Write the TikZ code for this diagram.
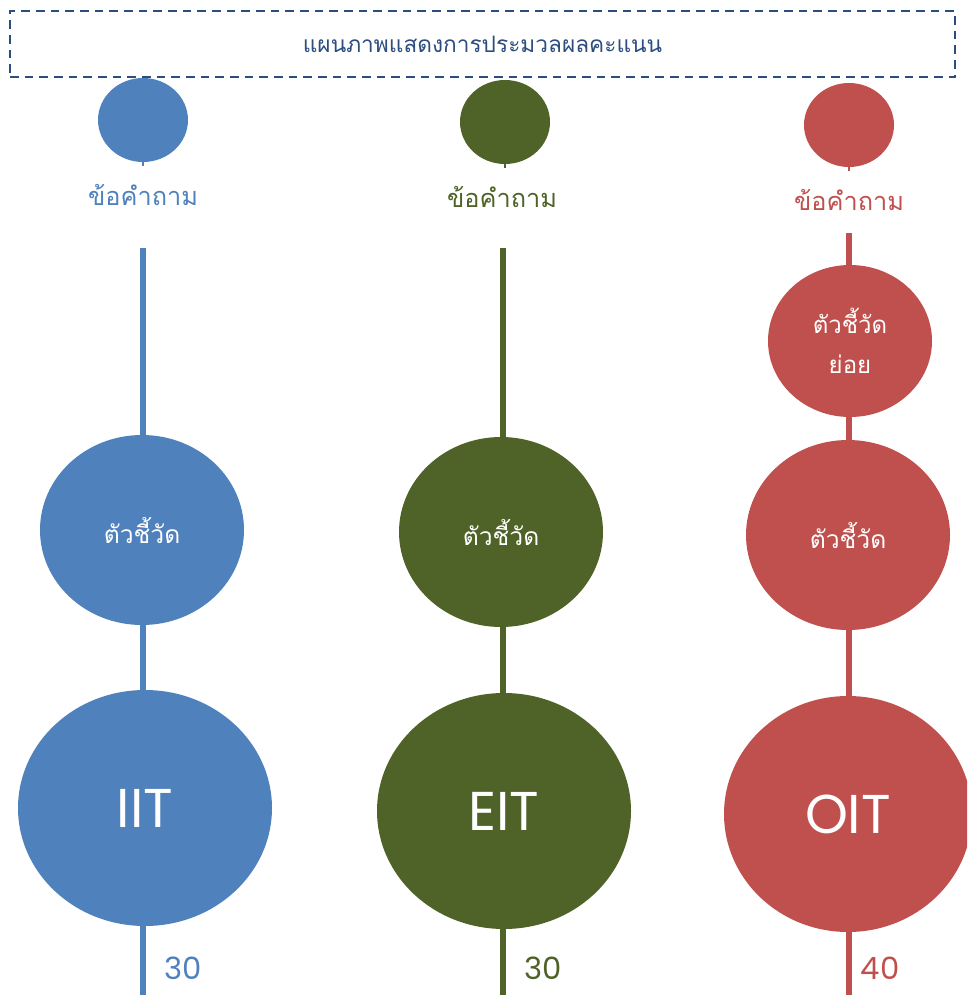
\documentclass[tikz,border=0pt]{standalone}
\usepackage{fontspec}
\newfontfamily\thaifont[Script=Thai]{Loma}
\newfontfamily\latinfont{Poppins}
\usetikzlibrary{shapes.geometric}
\definecolor{iitblue}{HTML}{4F81BD}
\definecolor{eitgreen}{HTML}{4F6228}
\definecolor{oitred}{HTML}{C0504D}
\definecolor{titleblue}{HTML}{2C4D7F}

\tikzset{
  stem/.style={draw=#1, line width=4.5pt},
  qdot/.style={ellipse, fill=#1, inner sep=0pt, minimum width=67.5pt, minimum height=63pt},
  subkpi/.style={ellipse, fill=#1, inner sep=0pt, minimum width=123pt, minimum height=114pt,
    text=white, align=center, font=\thaifont\fontsize{18}{30}\selectfont},
  kpi/.style={ellipse, fill=#1, inner sep=0pt, minimum width=153pt, minimum height=142.5pt,
    text=white, font=\thaifont\fontsize{18.5}{20}\selectfont},
  core/.style={ellipse, fill=#1, inner sep=0pt, minimum width=190.5pt, minimum height=177pt,
    text=white, font=\latinfont\fontsize{41}{44}\selectfont},
  qlabel/.style={text=#1, inner sep=0pt, font=\thaifont\fontsize{19}{22}\selectfont},
  score/.style={text=#1, inner sep=0pt, font=\latinfont\fontsize{23}{26}\selectfont},
}

\begin{document}
\begin{tikzpicture}[x=0.75pt, y=-0.75pt]
    \clip (0,0) rectangle (967,995);

    % title
    \node[draw=titleblue, line width=1.5pt, dash pattern=on 6.5pt off 4.5pt,
          minimum width=708.75pt, minimum height=49.5pt, inner sep=0pt,
          text=titleblue, font=\thaifont\fontsize{17}{20}\selectfont]
        (title) at (482.5,44) {แผนภาพแสดงการประมวลผลคะแนน};

    % stems
    \coordinate (iittop) at (143,248);
    \coordinate (iitend) at (143,995);
    \coordinate (eittop) at (503,248);
    \coordinate (eitend) at (503,995);
    \coordinate (oittop) at (849,233);
    \coordinate (oitend) at (849,995);
    \draw[stem=iitblue] (iittop) -- (iitend);
    \draw[stem=eitgreen] (eittop) -- (eitend);
    \draw[stem=oitred] (oittop) -- (oitend);

    % IIT
    \node[qdot=iitblue] (iitq) at (143,120) {};
    \draw[iitblue, line width=2pt] (iitq.south) -- ++(0,4);
    \node[qlabel=iitblue] (iitqlab) at (143,195) {ข้อคำถาม};
    \node[kpi=iitblue] (iitkpi) at (142,530) {ตัวชี้วัด};
    \node[core=iitblue] (iit) at (145,808) {IIT};
    \node[score=iitblue] (iitscore) at (183,968) {30};

    % EIT
    \node[qdot=eitgreen] (eitq) at (505,122) {};
    \draw[eitgreen, line width=2pt] (eitq.south) -- ++(0,4);
    \node[qlabel=eitgreen] (eitqlab) at (502,197) {ข้อคำถาม};
    \node[kpi=eitgreen] (eitkpi) at (501,532) {ตัวชี้วัด};
    \node[core=eitgreen] (eit) at (504,811) {EIT};
    \node[score=eitgreen] (eitscore) at (543,968) {30};

    % OIT
    \node[qdot=oitred] (oitq) at (849,125) {};
    \draw[oitred, line width=2pt] (oitq.south) -- ++(0,4);
    \node[qlabel=oitred] (oitqlab) at (849,200) {ข้อคำถาม};
    \node[subkpi=oitred] (oitsub) at (850,341) {ตัวชี้วัด\\ย่อย};
    \node[kpi=oitred] (oitkpi) at (848,535) {ตัวชี้วัด};
    \node[core=oitred, minimum width=186pt] (oit) at (848,814) {OIT};
    \node[score=oitred] (oitscore) at (880,968) {40};
\end{tikzpicture}
\end{document}
